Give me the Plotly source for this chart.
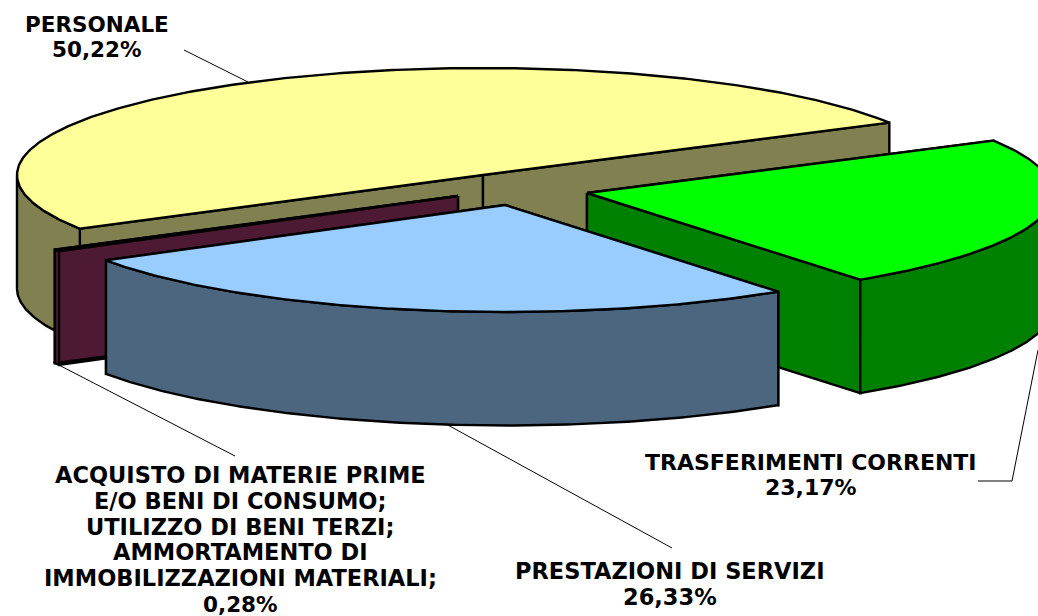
import numpy as np
import plotly.graph_objects as go

# --- data ---
categories = ["PERSONALE", "TRASFERIMENTI CORRENTI", "PRESTAZIONI DI SERVIZI",
              "ACQUISTO DI MATERIE PRIME"]
shares = [50.22, 23.17, 26.33, 0.28]
share_labels = ["50,22%", "23,17%", "26,33%", "0,28%"]

# --- pie projection / style ---
W, H = 1038, 616
A, B, DEPTH = 466, 107, 113.5
START_DEG = 210.1
apex_x = [483, 587, 505, 458]
apex_y = [175, 193, 205, 196]
top_colors = ["#FFFF99", "#00FF00", "#99CCFF", "#660033"]
side_colors = ["#808050", "#008000", "#4D6680", "#4D1933"]
draw_order = [0, 3, 1, 2]

spans = np.array(shares) / 100 * 360
starts = START_DEG - np.concatenate([[0], np.cumsum(spans)[:-1]])
ends = starts - spans


def arc(cx, cy, t0, t1, dy=0):
    t = np.radians(np.linspace(t0, t1, max(int(abs(t1 - t0) * 2), 3)))
    return cx + A * np.cos(t), cy - B * np.sin(t) + dy


def poly(fig, x, y, fill):
    fig.add_trace(go.Scatter(
        x=np.append(x, x[0]), y=np.append(y, y[0]), mode="lines", fill="toself",
        fillcolor=fill, line=dict(color="black", width=2.4, shape="linear"),
        hoverinfo="skip", showlegend=False))


def face(fig, cx, cy, t, fill):
    ex = cx + A * np.cos(np.radians(t))
    ey = cy - B * np.sin(np.radians(t))
    poly(fig, np.array([cx, ex, ex, cx]),
         np.array([cy, ey, ey + DEPTH, cy + DEPTH]), fill)


fig = go.Figure()
for i in draw_order:
    cx, cy = apex_x[i], apex_y[i]
    s, e = starts[i], ends[i]
    # cut faces, back one first
    face(fig, cx, cy, s, side_colors[i])
    face(fig, cx, cy, e, side_colors[i])
    # outer wall: only the part on the front half of the ellipse
    ts = np.linspace(s, e, 400)
    vis = ts[np.sin(np.radians(ts)) <= 0]
    if len(vis) > 1:
        x1, y1 = arc(cx, cy, vis[0], vis[-1])
        x2, y2 = arc(cx, cy, vis[-1], vis[0], DEPTH)
        poly(fig, np.concatenate([x1, x2]), np.concatenate([y1, y2]), side_colors[i])
    # top
    xa, ya = arc(cx, cy, s, e)
    poly(fig, np.concatenate([[cx], xa]), np.concatenate([[cy], ya]), top_colors[i])

# leader lines
leaders = [
    [(184, 50), (248, 82)],
    [(978, 481), (1012, 481), (1038, 350)],
    [(446, 424), (672, 548)],
    [(53, 362), (235, 456)],
]
for pts in leaders:
    fig.add_trace(go.Scatter(x=[p[0] for p in pts], y=[p[1] for p in pts], mode="lines",
                             line=dict(color="black", width=1), hoverinfo="skip",
                             showlegend=False))

label_lines = [
    [categories[0], share_labels[0]],
    [categories[1], share_labels[1]],
    [categories[2], share_labels[2]],
    [categories[3], "E/O BENI DI CONSUMO;", "UTILIZZO DI BENI TERZI;",
     "AMMORTAMENTO DI", "IMMOBILIZZAZIONI MATERIALI;", share_labels[3]],
]
label_x = [97, 811, 670, 240]
label_first_y = [24, 462, 571, 475]
label_sizes = [21.5, 22, 22.5, 22.5]
LINE_STEP = 25.8
for lines, x, y0, size in zip(label_lines, label_x, label_first_y, label_sizes):
    for k, text in enumerate(lines):
        fig.add_annotation(x=x, y=y0 + k * LINE_STEP, text=text, showarrow=False,
                           font=dict(family="DejaVu Sans", size=min(size, 21.5) if k == 5 else size,
                                     color="black", weight="bold"),
                           align="center", xanchor="center", yanchor="middle")

fig.update_layout(
    width=W, height=H, margin=dict(l=0, r=0, t=0, b=0),
    paper_bgcolor="white", plot_bgcolor="white", showlegend=False,
    xaxis=dict(range=[0, W], visible=False, fixedrange=True),
    yaxis=dict(range=[H, 0], visible=False, fixedrange=True),
)
fig.write_html("out.html", config={"displayModeBar": False},
               post_script="document.body.style.margin='0';document.body.style.overflow='hidden';")
